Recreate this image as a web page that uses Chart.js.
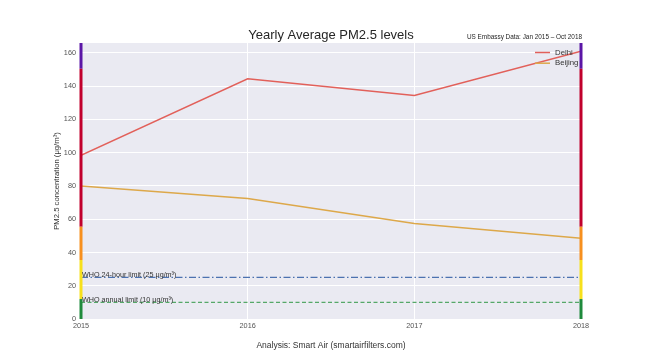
<!DOCTYPE html>
<html>
<head>
<meta charset="utf-8">
<script src="https://cdn.jsdelivr.net/npm/chart.js@4"></script>
<style>
html,body{margin:0;padding:0;background:#fff;}
#wrap{width:647px;height:359px;}
</style>
</head>
<body>
<div id="wrap"><canvas id="c" width="647" height="359"></canvas></div>
<script>
// ---- data ----
const years = [2015, 2016, 2017, 2018];
const delhi = [98.5, 144.5, 134.5, 161];
const beijing = [80, 72.5, 57.5, 48.5];
const whoDaily = 25;
const whoAnnual = 10;
const aqiBreaks = [0, 12, 35.5, 55.5, 150.5];
const aqiColors = ['#1f8a3c', '#f7e01c', '#f7901e', '#c1002c', '#5b16a6'];
const yTicks = [0, 20, 40, 60, 80, 100, 120, 140, 160];
const yMax = 166;
const chartTitle = 'Yearly Average PM2.5 levels';
const subTitle = 'US Embassy Data: Jan 2015 \u2013 Oct 2018';
const yTitle = 'PM2.5 concentration (\u03bcg/m\u00b3)';
const xTitle = 'Analysis: Smart Air (smartairfilters.com)';
const whoDailyLabel = 'WHO 24-hour limit (25 \u03bcg/m\u00b3)';
const whoAnnualLabel = 'WHO annual limit (10 \u03bcg/m\u00b3)';

const FONT = '"Liberation Sans", Arial, sans-serif';
const first = years[0], last = years[years.length - 1];

// AQI band segments on both edges
const bandSets = [];
[first, last].forEach(xv => {
  aqiBreaks.forEach((b, i) => {
    const top = i + 1 < aqiBreaks.length ? aqiBreaks[i + 1] : yMax;
    bandSets.push({
      label: 'band', data: [{x: xv, y: b}, {x: xv, y: top}],
      borderColor: aqiColors[i], borderWidth: 3, pointRadius: 0,
      borderCapStyle: 'butt', order: 0, clip: false
    });
  });
});

const datasets = [
  ...bandSets,
  {label: 'Delhi', data: years.map((y, i) => ({x: y, y: delhi[i]})),
   borderColor: '#e2605a', borderWidth: 1.5, pointRadius: 0, order: 1},
  {label: 'Beijing', data: years.map((y, i) => ({x: y, y: beijing[i]})),
   borderColor: '#dda84a', borderWidth: 1.5, pointRadius: 0, order: 1},
  {label: 'who24', data: [{x: first, y: whoDaily}, {x: last, y: whoDaily}],
   borderColor: '#4c72b0', borderWidth: 1.3, borderDash: [7, 2.5, 1.5, 2.5], pointRadius: 0, order: 2},
  {label: 'whoAnn', data: [{x: first, y: whoAnnual}, {x: last, y: whoAnnual}],
   borderColor: '#55a868', borderWidth: 1.3, borderDash: [4, 2.5], pointRadius: 0, order: 2}
];

const bgPlugin = {
  id: 'bg',
  beforeDraw(chart) {
    const {ctx, chartArea: a} = chart;
    ctx.save();
    ctx.fillStyle = '#eaeaf2';
    ctx.fillRect(a.left, a.top, a.right - a.left, a.bottom - a.top);
    ctx.restore();
  }
};

const textPlugin = {
  id: 'texts',
  afterDatasetsDraw(chart) {
    const {ctx, chartArea: a, scales} = chart;
    const xs = scales.x, ys = scales.y;
    ctx.save();
    // titles
    ctx.fillStyle = '#262626';
    ctx.textBaseline = 'alphabetic';
    ctx.textAlign = 'center';
    ctx.font = '13px ' + FONT;
    ctx.fillText(chartTitle, (a.left + a.right) / 2, a.top - 4);
    ctx.textAlign = 'right';
    ctx.font = '6.4px ' + FONT;
    ctx.fillText(subTitle, a.right + 1, a.top - 4);
    // WHO labels
    ctx.textAlign = 'left';
    ctx.fillStyle = '#333';
    ctx.font = '7.2px ' + FONT;
    ctx.fillText(whoDailyLabel, xs.getPixelForValue(first) + 1, ys.getPixelForValue(whoDaily) - 0.5);
    ctx.fillText(whoAnnualLabel, xs.getPixelForValue(first) + 1, ys.getPixelForValue(whoAnnual) - 0.5);
    // legend
    const items = [['Delhi', '#e2605a'], ['Beijing', '#dda84a']];
    ctx.font = '7.8px ' + FONT;
    ctx.textBaseline = 'middle';
    items.forEach((it, i) => {
      const y = a.top + 9.5 + i * 10.7;
      ctx.strokeStyle = it[1];
      ctx.lineWidth = 1.5;
      ctx.beginPath();
      ctx.moveTo(a.right - 46, y);
      ctx.lineTo(a.right - 31, y);
      ctx.stroke();
      ctx.fillStyle = '#333';
      ctx.fillText(it[0], a.right - 26, y);
    });
    ctx.restore();
  }
};

new Chart(document.getElementById('c'), {
  type: 'line',
  data: {datasets},
  options: {
    responsive: false,
    animation: false,
    events: [],
    layout: {padding: {left: 48, right: 66, top: 43, bottom: 0}},
    plugins: {legend: {display: false}, tooltip: {enabled: false}, title: {display: false}},
    scales: {
      x: {
        type: 'linear', min: first, max: last,
        afterBuildTicks(s) { s.ticks = years.map(v => ({value: v})); },
        afterFit(s) { s.height = 40; },
        grid: {color: '#ffffff', lineWidth: 1, drawTicks: false},
        border: {display: false},
        ticks: {padding: 3, color: '#555', font: {family: FONT, size: 7.3}, maxRotation: 0, callback: v => String(v)},
        title: {display: true, text: xTitle, color: '#333', font: {family: FONT, size: 8.5}, padding: {top: 0, bottom: 8}}
      },
      y: {
        type: 'linear', min: 0, max: yMax,
        afterBuildTicks(s) { s.ticks = yTicks.map(v => ({value: v})); },
        afterFit(s) { s.width = 81 - 48; },
        grid: {color: '#ffffff', lineWidth: 1, drawTicks: false},
        border: {display: false},
        ticks: {padding: 5, color: '#555', font: {family: FONT, size: 7.3}},
        title: {display: true, text: yTitle, color: '#333', font: {family: FONT, size: 7.7}, padding: {top: 4, bottom: 0}}
      }
    }
  },
  plugins: [bgPlugin, textPlugin]
});
</script>
</body>
</html>
